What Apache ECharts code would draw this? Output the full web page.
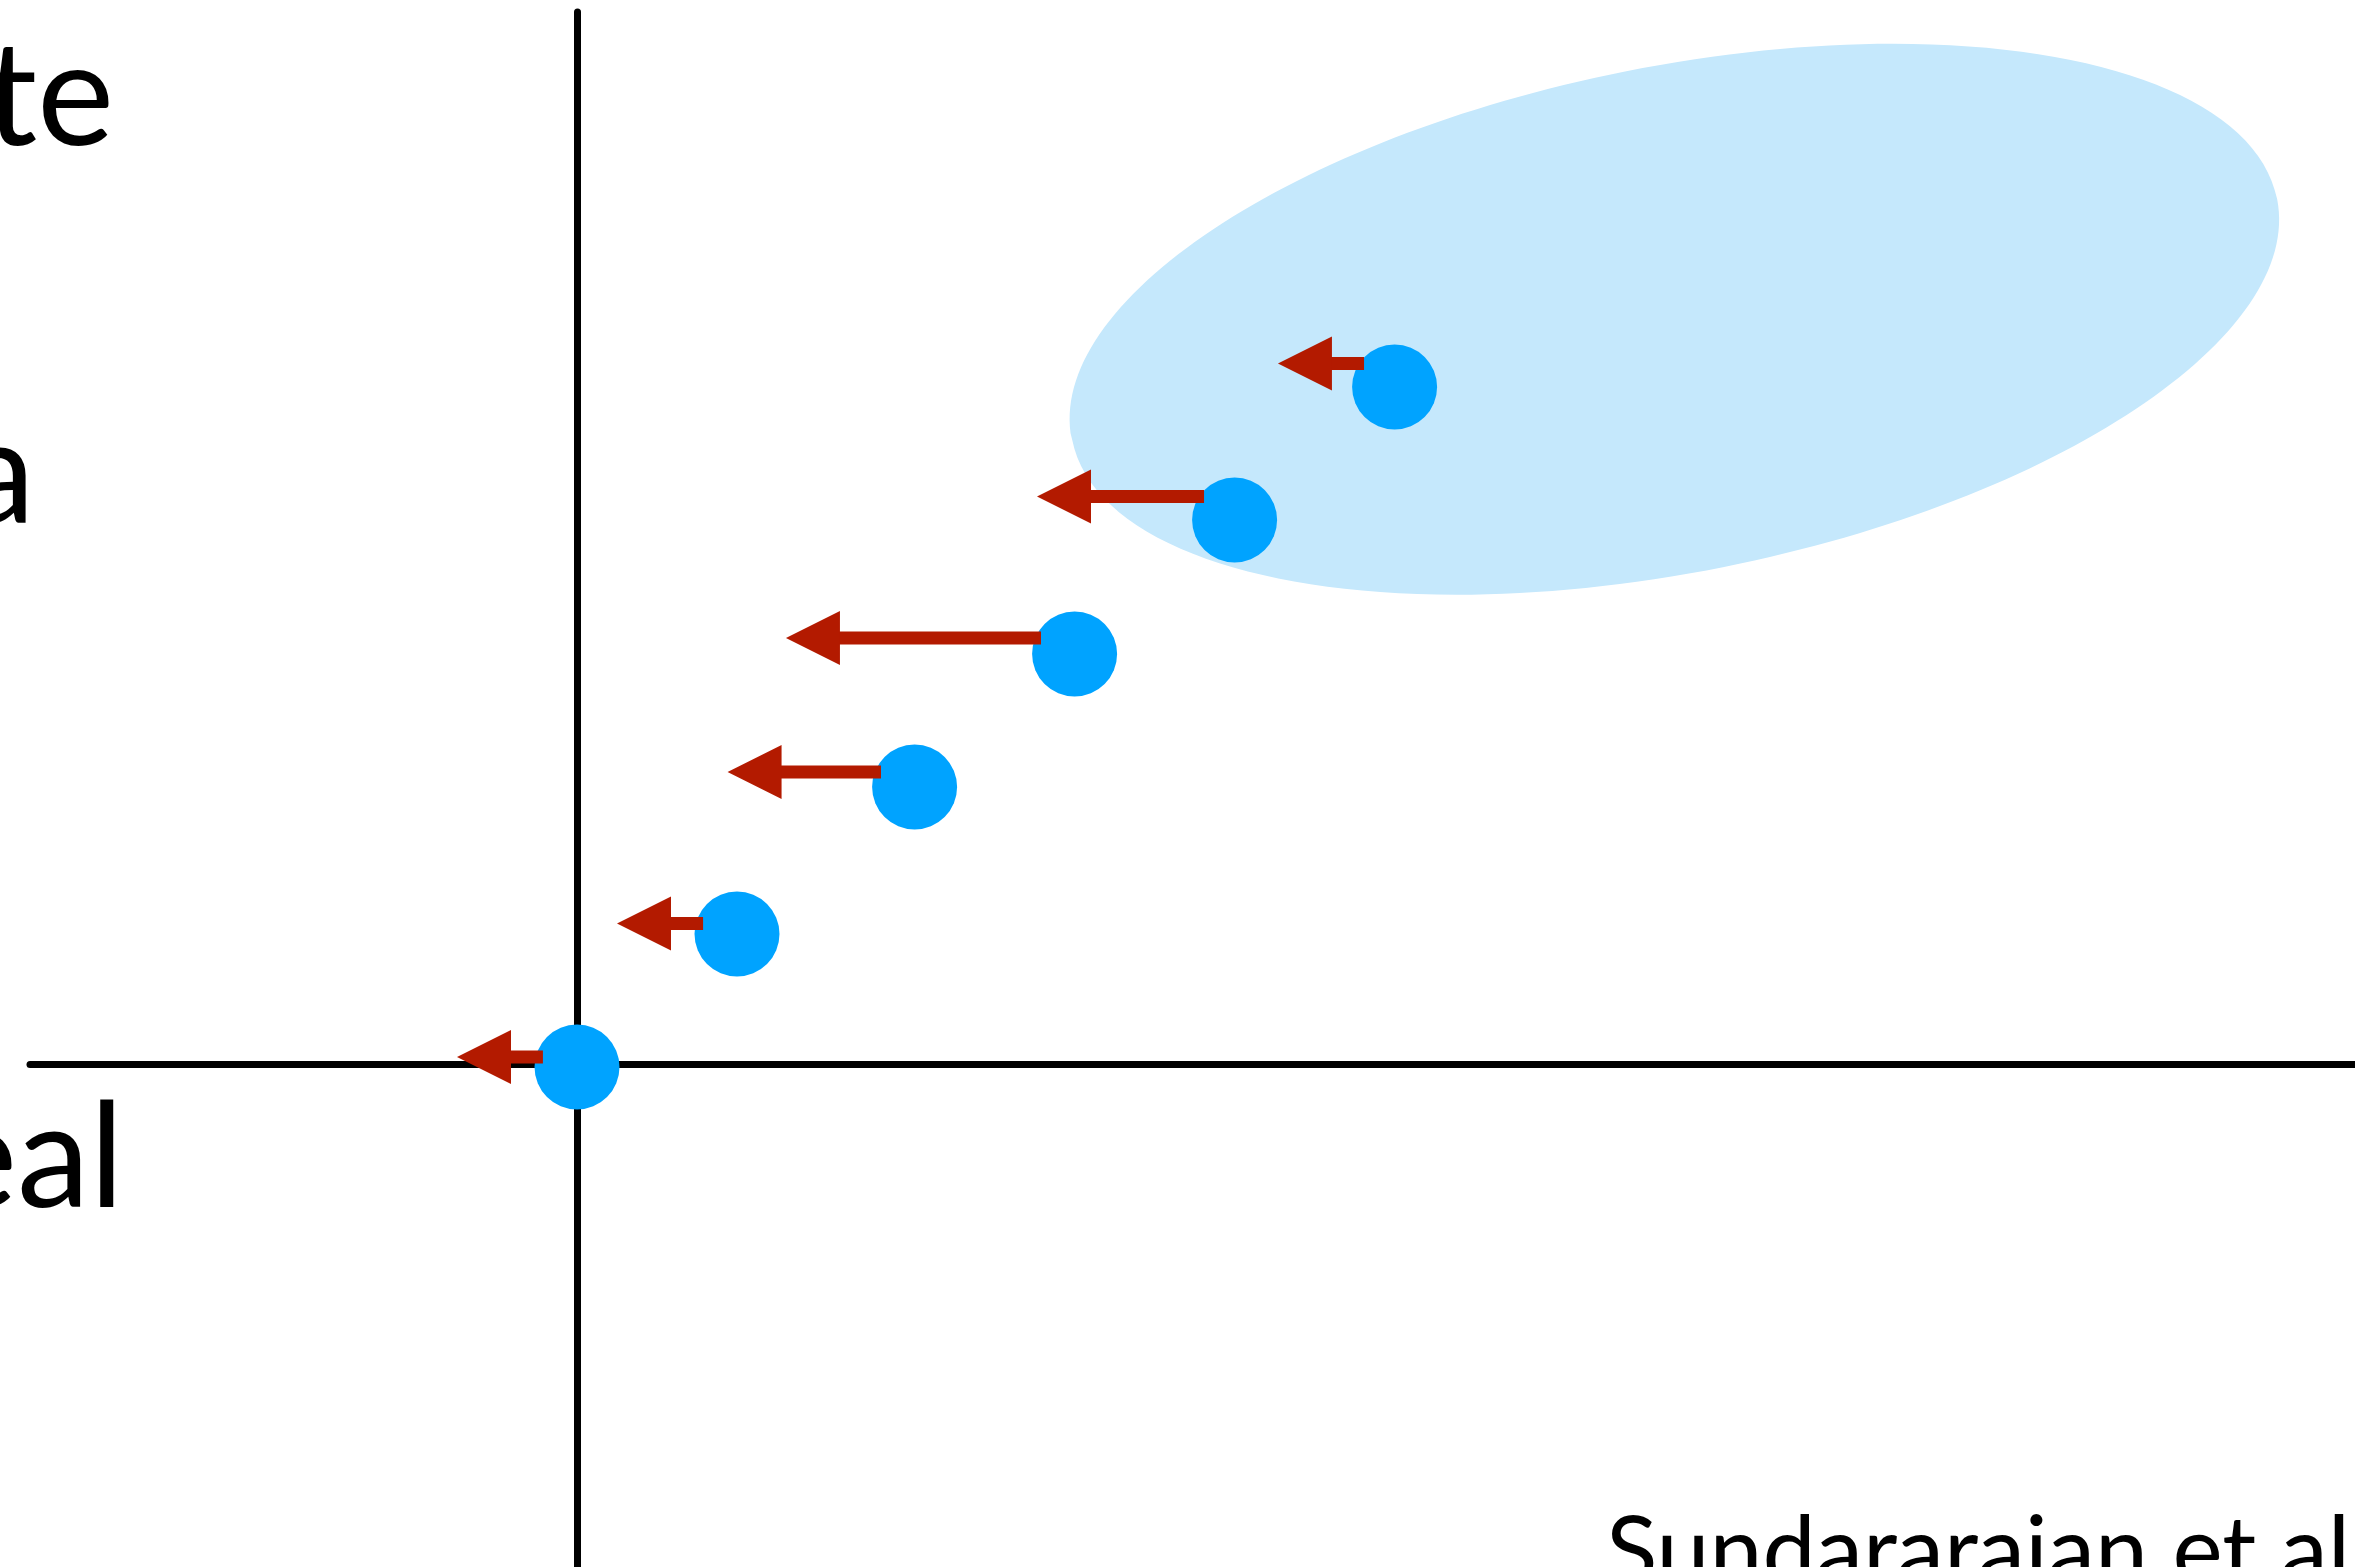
<!DOCTYPE html>
<html>
<head>
<meta charset="utf-8">
<script src="https://cdn.jsdelivr.net/npm/echarts@6/dist/echarts.min.js"></script>
<style>
  html, body { margin: 0; padding: 0; background: #ffffff; }
  #chart { width: 2355px; height: 1567px; }
</style>
</head>
<body>
<div id="chart"></div>
<script>
// ---- data (arbitrary units) ----
const pointX = [0, 10, 21.1, 31.1, 41.1, 51.1];
const pointY = [-0.23, 9.77, 20.83, 30.83, 40.9, 50.9];

const arrowY    = [0.53, 10.56, 21.95, 32.03, 42.67, 52.67];
const arrowFrom = [-2.13, 7.88, 19.0, 29.0, 39.19, 49.19];
const arrowTo   = [-7.5, 2.5, 9.41, 13.06, 28.75, 43.81];

// ellipse region: centre x, centre y, half-width (x units), half-height (y units)
const regionCentre = [68.6, 56.0];
const regionRadius = [38.4, 19.0];

const leftLabels = ['te', 'a', 'eal'];
const creditText = 'Sundararajan et al';

// ---- build options ----
const points = pointX.map((x, i) => [x, pointY[i]]);
const arrows = arrowY.map((y, i) => [arrowFrom[i], y, arrowTo[i]]);
const region = [[regionCentre[0], regionCentre[1], regionRadius[0], regionRadius[1]]];

const FONT = 'Lato, "Open Sans", sans-serif';
const chart = echarts.init(document.getElementById('chart'), null, { renderer: 'canvas' });

chart.setOption({
  animation: false,
  backgroundColor: '#ffffff',
  grid: { left: 30, right: 0, top: 12, bottom: 0, containLabel: false },
  xAxis: {
    type: 'value', min: -34.1875, max: 111.125,
    axisLine: { show: true, onZero: true, lineStyle: { color: '#000000', width: 7 } },
    axisTick: { show: false }, axisLabel: { show: false }, splitLine: { show: false }
  },
  yAxis: {
    type: 'value', min: -37.82, max: 79.1,
    axisLine: { show: true, onZero: true, lineStyle: { color: '#000000', width: 7 } },
    axisTick: { show: false }, axisLabel: { show: false }, splitLine: { show: false }
  },
  series: [
    {
      type: 'custom',
      z: 1,
      data: region,
      encode: { x: 0, y: 1 },
      renderItem: function (params, api) {
        const c = api.coord([api.value(0), api.value(1)]);
        const s = api.size([api.value(2), api.value(3)]);
        return {
          type: 'ellipse',
          x: c[0], y: c[1],
          rotation: 11.3 * Math.PI / 180,
          shape: { cx: 0, cy: 0, rx: s[0], ry: s[1] },
          style: { fill: '#C5E8FC' }
        };
      },
      silent: true
    },
    {
      type: 'scatter',
      z: 3,
      data: points,
      symbol: 'circle',
      symbolSize: 85,
      itemStyle: { color: '#00A3FF', opacity: 1 },
      silent: true
    },
    {
      type: 'custom',
      z: 4,
      data: arrows,
      encode: { x: [0, 2], y: 1 },
      renderItem: function (params, api) {
        const y = api.value(1);
        const pTail = api.coord([api.value(0), y]);
        const pTip = api.coord([api.value(2), y]);
        const headLen = 54, headW = 54, shaftW = 13;
        const dir = pTail[0] >= pTip[0] ? 1 : -1;
        const back = pTip[0] + dir * headLen;
        const py = pTip[1];
        const x0 = Math.min(back, pTail[0]);
        const x1 = Math.max(back, pTail[0]);
        return {
          type: 'group',
          children: [
            {
              type: 'rect',
              shape: { x: x0 - 1, y: py - shaftW / 2, width: x1 - x0 + 1, height: shaftW },
              style: { fill: '#B31A00' }
            },
            {
              type: 'polygon',
              shape: { points: [[pTip[0], py], [back, py - headW / 2], [back, py + headW / 2]] },
              style: { fill: '#B31A00' }
            }
          ]
        };
      },
      silent: true
    }
  ],
  graphic: [
    { type: 'text', x: 114, y: 97.5, style: { text: leftLabels[0], font: '146px ' + FONT, fill: '#000', align: 'right', verticalAlign: 'middle' } },
    { type: 'text', x: 35, y: 475.5, style: { text: leftLabels[1], font: '146px ' + FONT, fill: '#000', align: 'right', verticalAlign: 'middle' } },
    { type: 'text', x: 124, y: 1160, style: { text: leftLabels[2], font: '146px ' + FONT, fill: '#000', align: 'right', verticalAlign: 'middle' } },
    { type: 'text', x: 1606, y: 1553, style: { text: creditText, font: '95px ' + FONT, fill: '#000', align: 'left', verticalAlign: 'middle' } }
  ]
});
</script>
</body>
</html>
